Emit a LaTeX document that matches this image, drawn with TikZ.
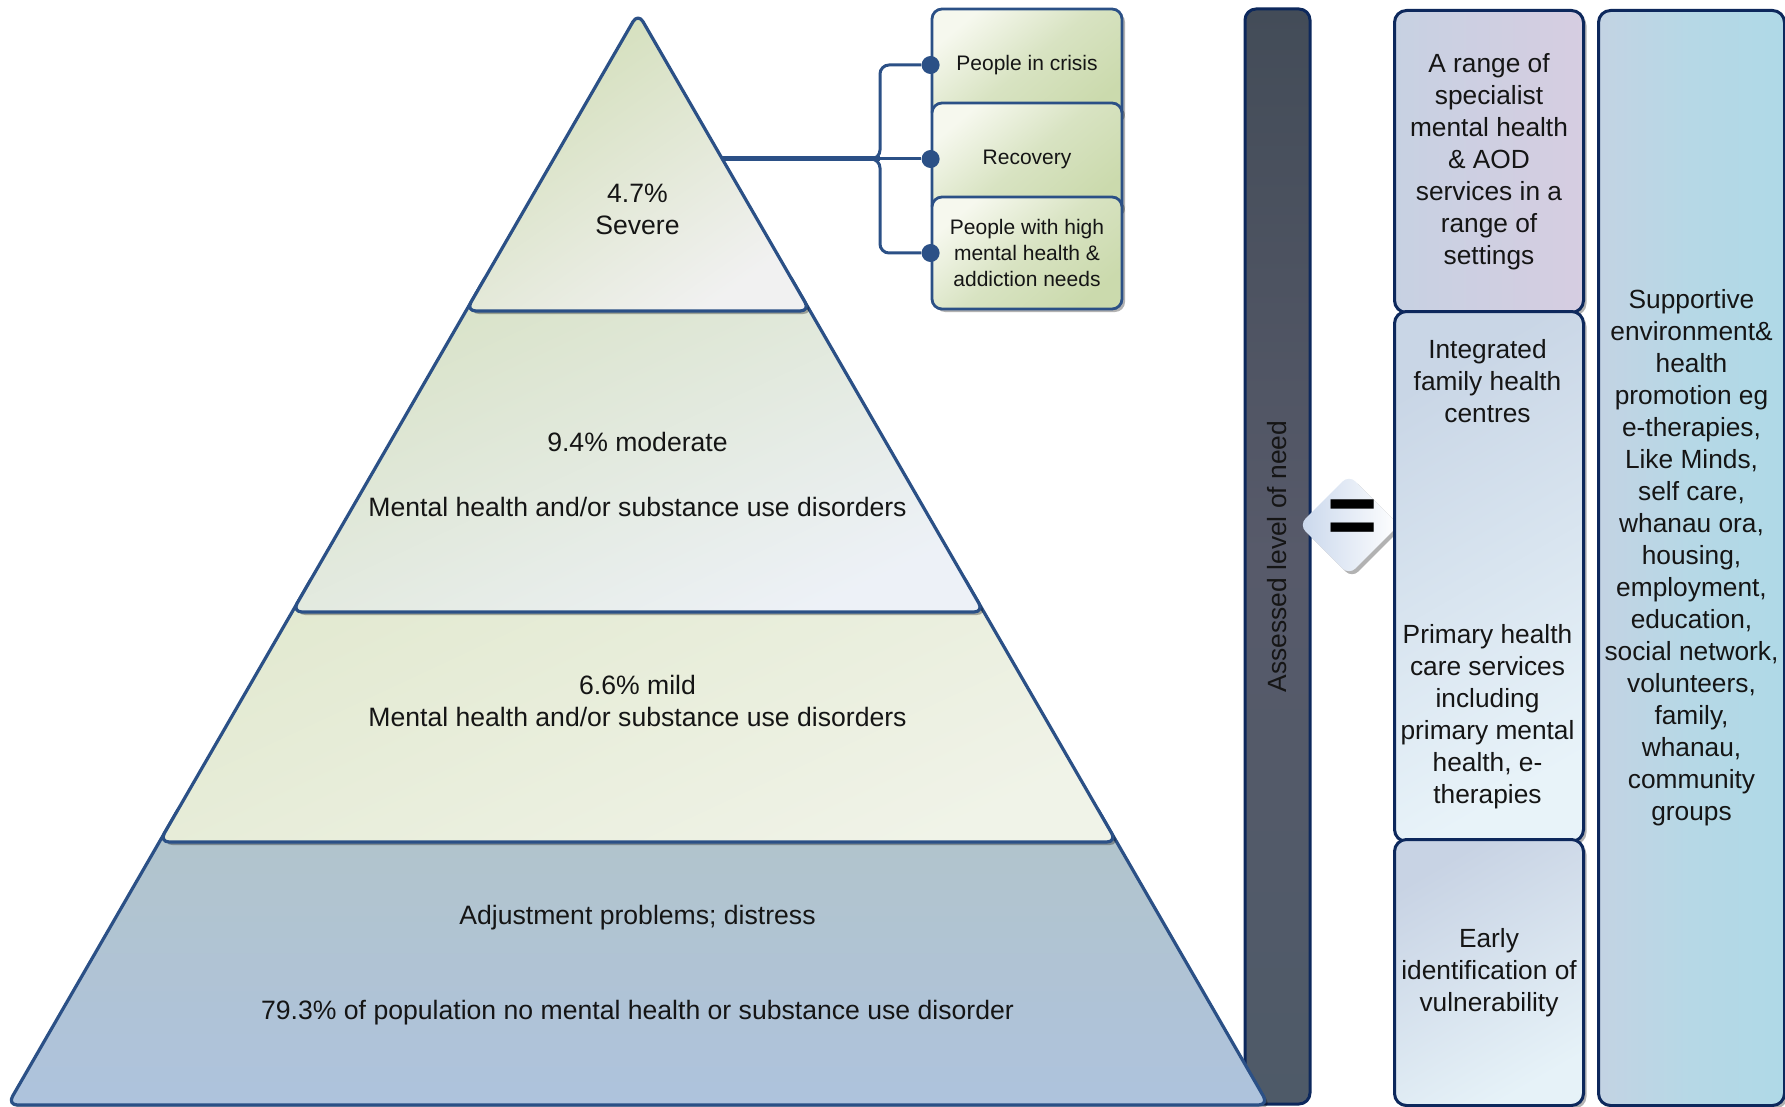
\documentclass[tikz,border=0pt]{standalone}
\usepackage{fontspec}
\setmainfont{Liberation Sans}
\usetikzlibrary{shadows,shapes.geometric}

\definecolor{rim}{HTML}{2B5086}
\definecolor{navy}{HTML}{0D285C}
\definecolor{ink}{HTML}{151515}
\definecolor{tAa}{HTML}{D2DEB8}
\definecolor{tAb}{HTML}{F1F1F1}
\definecolor{tBa}{HTML}{D8E2C6}
\definecolor{tBb}{HTML}{EDF1F7}
\definecolor{tCa}{HTML}{E2E9D0}
\definecolor{tCb}{HTML}{F0F3E8}
\definecolor{tDa}{HTML}{B2C4CA}
\definecolor{tDb}{HTML}{AEC3DD}
\definecolor{gtop}{HTML}{F6F8EE}
\definecolor{gmid}{HTML}{D8E3C2}
\definecolor{gbot}{HTML}{CBDAAD}
\definecolor{barA}{HTML}{434C58}
\definecolor{barB}{HTML}{575A6A}
\definecolor{barC}{HTML}{4E5A68}
\definecolor{eqA}{HTML}{C9D7EC}
\definecolor{specA}{HTML}{C7D1E2}
\definecolor{specB}{HTML}{D6CDE1}
\definecolor{primA}{HTML}{C9D6E6}
\definecolor{primB}{HTML}{E8F3F9}
\definecolor{earlyA}{HTML}{C8D3E4}
\definecolor{earlyB}{HTML}{E6F2F8}
\definecolor{suppA}{HTML}{C3D3E3}
\definecolor{suppB}{HTML}{B6D8E6}
\definecolor{suppC}{HTML}{AFD9E7}

\begin{document}
\begin{tikzpicture}[x=1pt,y=-1pt,
  softshadow/.style={drop shadow={shadow xshift=3pt, shadow yshift=-3pt, fill=black, opacity=0.3}},
  tier/.style={draw=rim, line width=3.2pt, rounded corners=10pt, line join=round, softshadow},
  ptext/.style={font=\fontsize{26.6}{32}\selectfont, align=center, text=ink},
  ctext/.style={font=\fontsize{26.3}{32}\selectfont, align=center, text=ink},
  gbox/.style={draw=rim, line width=2.8pt, rounded corners=10pt, minimum width=190pt,
    minimum height=112pt, inner sep=0pt, top color=gtop, bottom color=gbot, middle color=gmid,
    shading angle=40, font=\fontsize{21}{26}\selectfont, align=center, text=ink, softshadow},
  colbox/.style={draw=navy, line width=3pt, rounded corners=12pt, anchor=north west,
    inner sep=0pt, softshadow},
  dot/.style={circle, fill=rim, minimum size=18pt, inner sep=0pt},
  link/.style={draw=rim, line width=3pt, rounded corners=9pt},
  trunk/.style={draw=rim, line width=5pt},
]
\fill[white] (0,0) rectangle (1785,1107);
\useasboundingbox (0,0) rectangle (1785,1107);

% ---- assessed level of need (the pyramid's base corner overlaps it)
\node[draw=navy, line width=3pt, rounded corners=11pt, rotate=90, inner sep=0pt,
  minimum width=1095pt, minimum height=65pt,
  top color=barA, bottom color=barC, middle color=barB,
  font=\fontsize{26.4}{30}\selectfont, text=ink] (need) at (1277.5,556.5) {Assessed level of need};

% ---- pyramid, widest tier first so each upper tier sits on the one below
\path[tier, top color=tDa, bottom color=tDb]
  (182.4,802) -- (1093.6,802) -- (1268.5,1105) -- (7.5,1105) -- cycle;
\path[tier, top color=tCa, bottom color=tCb, shading angle=25]
  (315.2,572) -- (960.8,572) -- (1116.7,842) -- (159.3,842) -- cycle;
\path[tier, top color=tBa, bottom color=tBb, shading angle=25]
  (489,271) -- (787,271) -- (983.9,612) -- (292.1,612) -- cycle;
\path[tier, top color=tAa, bottom color=tAb, shading angle=35]
  (638,13) -- (810.1,311) -- (465.9,311) -- cycle;

\node[ptext] (severe) at (637.5,209) {4.7\%\\Severe};
\node[ptext] (moderate) at (637.5,474) {9.4\% moderate\\[33pt]Mental health and/or substance use disorders};
\node[ptext] (mild) at (637.5,701) {6.6\% mild\\Mental health and/or substance use disorders};
\node[ptext] (none) at (637.5,965) {Adjustment problems; distress\\[63.5pt]79.3\% of population no mental health or substance use disorder};

% ---- groups within the severe tier
\node[gbox] (crisis) at (1027,65) {People in crisis};
\node[gbox] (recovery) at (1027,159) {Recovery};
\node[gbox] (high) at (1027,253) {People with high\\mental health \&\\addiction needs};

\coordinate (tip) at (722.3,159);
\coordinate (fork) at (880,159);
\draw[trunk] (tip) -- (fork);
\node[dot] (d1) at (crisis.west) {};
\node[dot] (d2) at (recovery.west) {};
\node[dot] (d3) at (high.west) {};
\draw[link] (tip) -- (fork) |- (d1);
\draw[link] (tip) -- (d2);
\draw[link] (tip) -- (fork) |- (d3);

% ---- equals sign
\node[diamond, minimum width=100pt, minimum height=100pt, inner sep=0pt, rounded corners=9pt,
  left color=eqA, right color=white,
  drop shadow={shadow xshift=3pt, shadow yshift=-3pt, fill=black, opacity=0.3}] (eqbox) at (1349,525) {};
\node[font=\fontsize{86}{86}\selectfont\bfseries, text=black, inner sep=0pt] (eq) at (1353,522) {=};

% ---- services
\node[colbox, minimum width=189pt, minimum height=302pt, left color=specA, right color=specB,
  ctext] (spec) at (1393,9) {A range of\\specialist\\mental health\\\& AOD\\services in a\\range of\\settings};
\node[colbox, minimum width=189pt, minimum height=530pt, top color=primA, bottom color=primB,
  shading angle=30] (primary) at (1393,310) {};
\node[ctext] (ifhc) at (1487.5,381) {Integrated\\family health\\centres};
\node[ctext] (phc) at (1487.5,717) {Primary health\\care services\\including\\primary mental\\health, e-\\therapies};
\node[colbox, minimum width=189pt, minimum height=266pt, top color=earlyA, bottom color=earlyB,
  shading angle=30, ctext] (early) at (1393,838) {Early\\identification of\\vulnerability};
\node[colbox, minimum width=186pt, minimum height=1095pt, left color=suppA, right color=suppC,
  middle color=suppB, ctext] (support) at (1597,9)
  {Supportive\\environment\&\\health\\promotion eg\\e-therapies,\\Like Minds,\\self care,\\whanau ora,\\housing,\\employment,\\education,\\social network,\\volunteers,\\family,\\whanau,\\community\\groups};
\end{tikzpicture}
\end{document}
